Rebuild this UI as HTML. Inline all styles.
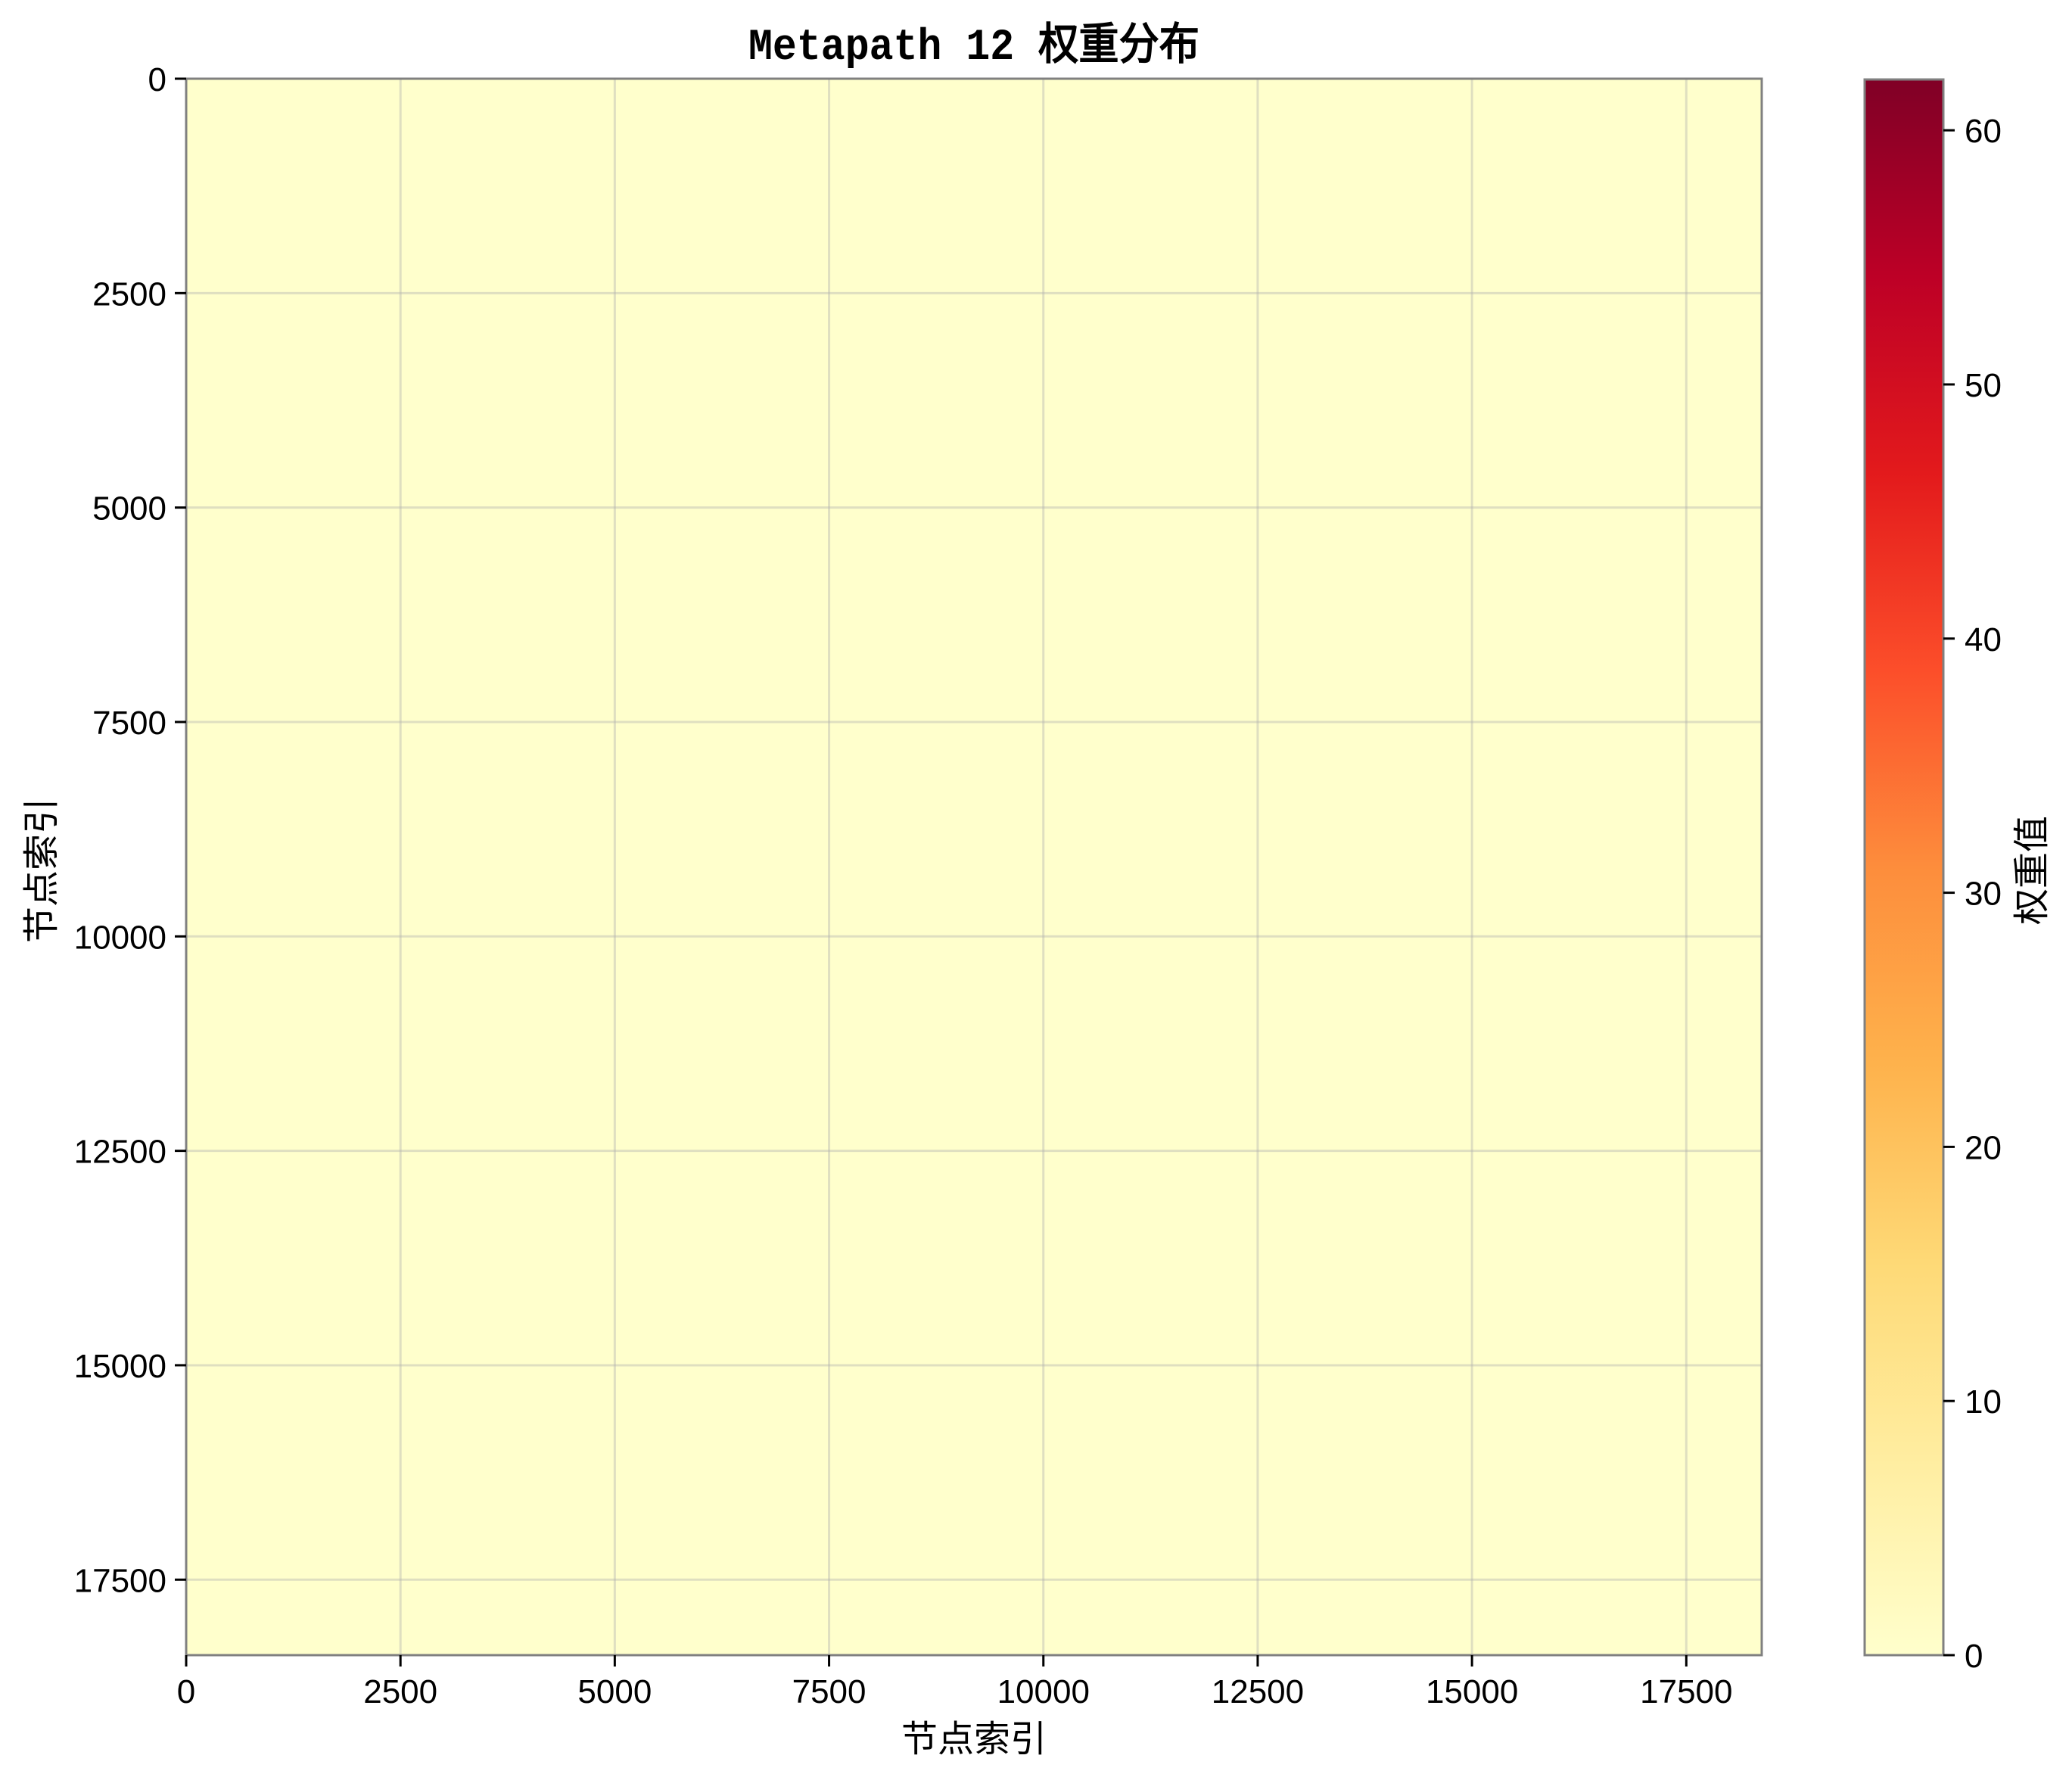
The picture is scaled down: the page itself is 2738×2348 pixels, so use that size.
<!DOCTYPE html>
<html><head><meta charset="utf-8">
<style>
html,body{margin:0;padding:0;background:#fff;}
svg{display:block;}
text{font-family:"Liberation Sans","WenQuanYi Zen Hei",sans-serif;fill:#000;}
.cjk{font-family:"WenQuanYi Zen Hei","Noto Sans CJK SC",sans-serif;}
.mono{font-family:"WenQuanYi Zen Hei Mono","WenQuanYi Zen Hei","Liberation Mono",monospace;}
</style></head>
<body>
<svg id="chart" width="2738" height="2348" viewBox="0 0 2738 2348" xmlns="http://www.w3.org/2000/svg">
<defs>
<linearGradient id="ylorrd" x1="0" y1="1" x2="0" y2="0">
<stop offset="0" stop-color="#ffffcc"/><stop offset="0.125" stop-color="#ffeda0"/>
<stop offset="0.25" stop-color="#fed976"/><stop offset="0.375" stop-color="#feb24c"/>
<stop offset="0.5" stop-color="#fd8d3c"/><stop offset="0.625" stop-color="#fc4e2a"/>
<stop offset="0.75" stop-color="#e31a1c"/><stop offset="0.875" stop-color="#bd0026"/>
<stop offset="1" stop-color="#800026"/>
</linearGradient>
</defs>
<text class="mono" x="1287" y="78" font-size="58" font-weight="bold" text-anchor="middle" textLength="596" lengthAdjust="spacingAndGlyphs">Metapath 12 权重分布</text>
<g id="cells"></g>
<g id="grid"></g>
<rect x="246" y="104" width="2082" height="2083" fill="none" stroke="#808080" stroke-width="3"/>
<g id="xticks"></g>
<g id="yticks"></g>
<text class="cjk" x="1287" y="2314" font-size="48" text-anchor="middle">节点索引</text>
<text class="cjk" transform="translate(71,1150) rotate(-90)" font-size="48" text-anchor="middle">节点索引</text>
<rect x="2464" y="105" width="104" height="2082" fill="url(#ylorrd)" stroke="#808080" stroke-width="3"/>
<g id="cbticks"></g>
<text class="cjk" transform="translate(2701,1150) rotate(-90)" font-size="48" text-anchor="middle">权重值</text>
</svg>
<script>
const xTicks = [0, 2500, 5000, 7500, 10000, 12500, 15000, 17500];
const yTicks = [0, 2500, 5000, 7500, 10000, 12500, 15000, 17500];
const cbTicks = [0, 10, 20, 30, 40, 50, 60];
const nNodes = 18380;
const vMax = 62;
const weights = [
 [0.02,0.01,0.02,0.01],
 [0.01,0.03,0.01,0.02],
 [0.02,0.01,0.02,0.01],
 [0.01,0.02,0.01,0.03]
];
const NS = 'http://www.w3.org/2000/svg';
const L = 246, T = 104, W = 2082, H = 2083;
const cbT = 105, cbB = 2187, cbR = 2568;
const xs = v => L + v / nNodes * W;
const ys = v => T + v / nNodes * H;
const cy = v => cbB - v / vMax * (cbB - cbT);
const stops = [[0,[255,255,204]],[.125,[255,237,160]],[.25,[254,217,118]],[.375,[254,178,76]],[.5,[253,141,60]],[.625,[252,78,42]],[.75,[227,26,28]],[.875,[189,0,38]],[1,[128,0,38]]];
function cmap(v){let t=Math.max(0,Math.min(1,v/vMax));for(let i=1;i<stops.length;i++){if(t<=stops[i][0]){const a=stops[i-1],b=stops[i],f=(t-a[0])/(b[0]-a[0]);return 'rgb('+a[1].map((c,k)=>Math.round(c+(b[1][k]-c)*f)).join(',')+')';}}return 'rgb(128,0,38)';}
function mk(tag, attrs, parent){const e=document.createElementNS(NS,tag);for(const k in attrs)e.setAttribute(k,attrs[k]);parent.appendChild(e);return e;}
const cells=document.getElementById('cells');
const n=weights.length, step=nNodes/n;
weights.forEach((row,r)=>row.forEach((v,c)=>{
 const e=mk('rect',{x:xs(c*step),y:ys(r*step),width:xs((c+1)*step)-xs(c*step)+0.5,height:ys((r+1)*step)-ys(r*step)+0.5,fill:cmap(v)},cells);
 
 
}));
const grid=document.getElementById('grid');
xTicks.forEach(v=>{const e=mk('line',{x1:xs(v),x2:xs(v),y1:T,y2:T+H,stroke:'#b0b0b0','stroke-opacity':0.4,'stroke-width':3},grid);
 
 });
yTicks.forEach(v=>{const e=mk('line',{x1:L,x2:L+W,y1:ys(v),y2:ys(v),stroke:'#b0b0b0','stroke-opacity':0.4,'stroke-width':3},grid);
 
 });
const xg=document.getElementById('xticks');
xTicks.forEach(v=>{mk('line',{x1:xs(v),x2:xs(v),y1:T+H,y2:T+H+15,stroke:'#000','stroke-width':3},xg);
 const t=mk('text',{x:xs(v),y:T+H+63,'font-size':44,'text-anchor':'middle'},xg);t.textContent=v;
 
 });
const yg=document.getElementById('yticks');
yTicks.forEach(v=>{mk('line',{x1:L-15,x2:L,y1:ys(v),y2:ys(v),stroke:'#000','stroke-width':3},yg);
 const t=mk('text',{x:L-26,y:ys(v)+16,'font-size':44,'text-anchor':'end'},yg);t.textContent=v;
 
 });
const cg=document.getElementById('cbticks');
cbTicks.forEach(v=>{mk('line',{x1:cbR,x2:cbR+15,y1:cy(v),y2:cy(v),stroke:'#000','stroke-width':3},cg);
 const t=mk('text',{x:cbR+28,y:cy(v)+16,'font-size':44,'text-anchor':'start'},cg);t.textContent=v;
 
 });
</script>
</body></html>
